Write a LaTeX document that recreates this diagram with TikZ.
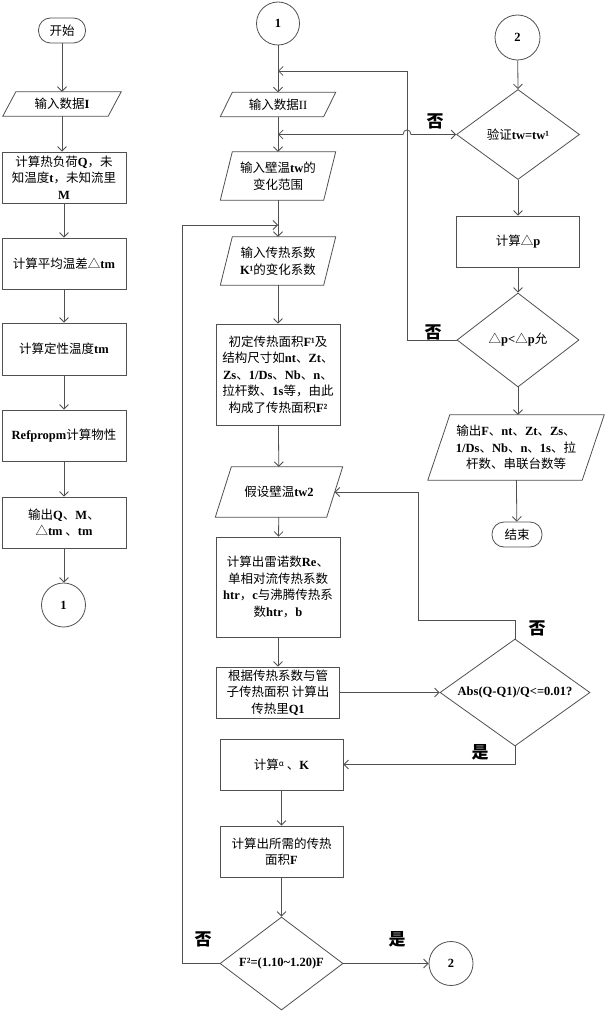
\documentclass[tikz,border=0pt]{standalone}
\usepackage{fontspec}
\setmainfont{Liberation Serif}
\newfontfamily\cjk{Noto Sans CJK SC}
\newfontfamily\lat{Liberation Serif}
\usetikzlibrary{arrows.meta,shapes.geometric,calc}
\newcommand\B[1]{{\lat\bfseries #1}}
\newcommand\R[1]{{\lat #1}}
\definecolor{lc}{RGB}{80,80,80}
\tikzset{
  line/.style={draw=lc, line width=0.8pt},
  arr/.style={line, -{Straight Barb[length=4.5pt,width=9pt]}},
  darr/.style={line, {Straight Barb[length=4.5pt,width=9pt]}-{Straight Barb[length=4.5pt,width=9pt]}},
  txtf/.style={font=\cjk\fontsize{12.5}{16.5}\selectfont, align=center, inner sep=0pt},
  box/.style={txtf, line, rectangle},
  term/.style={txtf, line, rectangle, rounded corners=12pt},
  conn/.style={txtf, line, circle},
  dia/.style={txtf, line, diamond, inner sep=0pt},
  lab/.style={font=\cjk\bfseries\fontsize{17}{17}\selectfont, inner sep=0pt}
}
% #1 name, #2 center, #3 width, #4 height, #5 half slant, #6 text
\newcommand\Para[6]{%
  \node[txtf, minimum width=#3pt, minimum height=#4pt] (#1) at (#2) {#6};
  \draw[line] ([xshift=-#5pt]#1.south west) -- ([xshift=#5pt]#1.north west)
     -- ([xshift=#5pt]#1.north east) -- ([xshift=-#5pt]#1.south east) -- cycle;}
\begin{document}
\begin{tikzpicture}[x=1pt,y=-1pt]
\fill[white] (0,0) rectangle (605,1011);
\useasboundingbox (0,0) rectangle (605,1011);

% ---------- left column ----------
\node[term, minimum width=47pt, minimum height=25pt] (start) at (62,30.5) {开始};
\Para{in1}{62,104}{105}{24}{6.5}{输入数据\B{I}}
\node[box, minimum width=124pt, minimum height=51pt] (b1) at (64,177.5) {计算热负荷\B{Q}，未\\知温度\B{t}，未知流里\\\B{M}};
\node[box, minimum width=124pt, minimum height=51pt] (b2) at (64,263.5) {计算平均温差△\B{tm}};
\node[box, minimum width=124pt, minimum height=52pt] (b3) at (64,349) {计算定性温度\B{tm}};
\node[box, minimum width=124pt, minimum height=51pt] (b4) at (64,435.5) {\B{Refpropm}计算物性};
\node[box, minimum width=124pt, minimum height=51pt] (b5) at (64,522.5) {输出\B{Q}、\B{M}、\\△\B{tm} 、\B{tm}};
\node[conn, minimum size=44pt] (c1) at (63.5,605) {\B{1}};

\draw[arr] (start) -- (start |- in1.north);
\draw[arr] (in1) -- (in1 |- b1.north);
\draw[arr] (b1) -- (b2);
\draw[arr] (b2) -- (b3);
\draw[arr] (b3) -- (b4);
\draw[arr] (b4) -- (b5);
\draw[arr] (b5) -- (b5 |- c1.north);

% ---------- middle column ----------
\node[conn, minimum size=43pt] (c1b) at (278,23.5) {\B{1}};
\Para{in2}{278,104.5}{103}{24}{6}{输入数据\R{II}}
\Para{inTw}{278,176}{103}{48}{6}{输入壁温\B{tw}的\\变化范围}
\Para{inK}{278,261}{103}{48}{6}{输入传热系数\\\B{K¹}的变化系数}
\node[box, minimum width=124pt, minimum height=101pt] (b6) at (278,374.5)
  {初定传热面积\B{F¹}及\\结构尺寸如\B{nt}、\B{Zt}、\\\B{Zs}、\B{1/Ds}、\B{Nb}、\B{n}、\\拉杆数、\B{1s}等，由此\\构成了传热面积\B{F²}};
\Para{inTw2}{279,492}{111}{50}{8}{假设壁温\B{tw2}}
\node[box, minimum width=124pt, minimum height=100pt] (b7) at (278,587)
  {计算出雷诺数\B{Re}、\\单相对流传热系数\\\B{htr}，\B{c}与沸腾传热系\\数\B{htr}，\B{b}};
\node[box, minimum width=123pt, minimum height=51pt] (b8) at (278,692.5)
  {根据传热系数与管\\子传热面积 计算出\\传热里\B{Q1}};
\node[dia, minimum width=150pt, minimum height=107pt] (dabs) at (515,692.5)
  {\makebox[0pt]{\B{Abs(Q-Q1)/Q<=0.01?}}};
\node[box, minimum width=123pt, minimum height=51pt] (b9) at (281.5,764.5)
  {计算\raisebox{0.45ex}{\fontsize{8}{8}\selectfont α} 、\B{K}};
\node[box, minimum width=123pt, minimum height=51pt] (b10) at (281.5,851.5)
  {计算出所需的传热\\面积\B{F}};
\node[dia, minimum width=123pt, minimum height=93pt] (dF) at (281.5,963.5)
  {\makebox[0pt]{\B{F²=(1.10\textasciitilde1.20)F}}};
\node[conn, minimum size=44pt] (c2b) at (451,963.5) {\B{2}};

% ---------- right column ----------
\node[conn, minimum size=45pt] (c2t) at (517.5,37.5) {\B{2}};
\node[dia, minimum width=123pt, minimum height=90pt] (dv) at (518,134.5)
  {\makebox[0pt]{验证\B{tw=tw¹}}};
\node[box, minimum width=123pt, minimum height=51pt] (b11) at (518,241.5) {计算△\B{p}};
\node[dia, minimum width=122pt, minimum height=94pt] (dp) at (518,340)
  {\makebox[0pt]{△\B{p<}△\B{p}允}};
\Para{outF}{516,447.5}{154}{65}{11}{输出\B{F}、\B{nt}、\B{Zt}、\B{Zs}、\\\B{1/Ds}、\B{Nb}、\B{n}、\B{1s}、拉\\杆数、串联台数等}
\node[term, minimum width=50pt, minimum height=25pt] (end) at (517,534.5) {结束};

% junction coordinates
\coordinate (j1) at (278,71);
\coordinate (k1) at (407,71);
\coordinate (j2) at (278,134.5);
\coordinate (jR) at (411,134.5);
\coordinate (jL) at (403,134.5);
\coordinate (kL) at (182,225);
\coordinate (j3) at (278,225);
\coordinate (k2) at (418,620);
\coordinate (k3) at (418,492);

% middle connectors
\draw[arr] (c1b.south) -- (in2.north);
\draw[arr] (in2) -- (inTw);
\draw[arr] (inTw) -- (inK);
\draw[arr] (inK) -- (b6);
\draw[arr] (b6) -- (inTw2);
\draw[arr] (inTw2) -- (b7);
\draw[arr] (b7) -- (b8);
\draw[arr] (b8.east) -- (dabs.west);
\draw[arr] (dabs.north) |- (k2) -- (k3) -- (inTw2.east);
\draw[arr] (dabs.south) |- (b9.east);
\draw[arr] (b9) -- (b10);
\draw[arr] (b10) -- (b10 |- dF.north);
\draw[arr] (dF.east) -- (c2b.west);
\draw[arr] (dF.west) -| (kL) -- (j3);

% right connectors
\draw[arr] (c2t) -- (dv.north);
\draw[arr] (dv.south) -- (b11);
\draw[arr] (b11) -- (dp.north);
\draw[arr] (dp.south) -- (dp.south |- outF.north);
\draw[arr] (outF) -- (end);
\draw[arr] (dp.west) -| (k1) -- (j1);
\draw[darr] (dv.west) -- (jR) .. controls ($(jR)+(0,-6)$) and ($(jL)+(0,-6)$) .. (jL) -- (j2);

% labels
\node[lab] (n1) at (435,121) {否};
\node[lab] (n2) at (433,332) {否};
\node[lab] (n3) at (537,628) {否};
\node[lab] (y1) at (480,752) {是};
\node[lab] (n4) at (203,939) {否};
\node[lab] (y2) at (397,939) {是};
\end{tikzpicture}
\end{document}
